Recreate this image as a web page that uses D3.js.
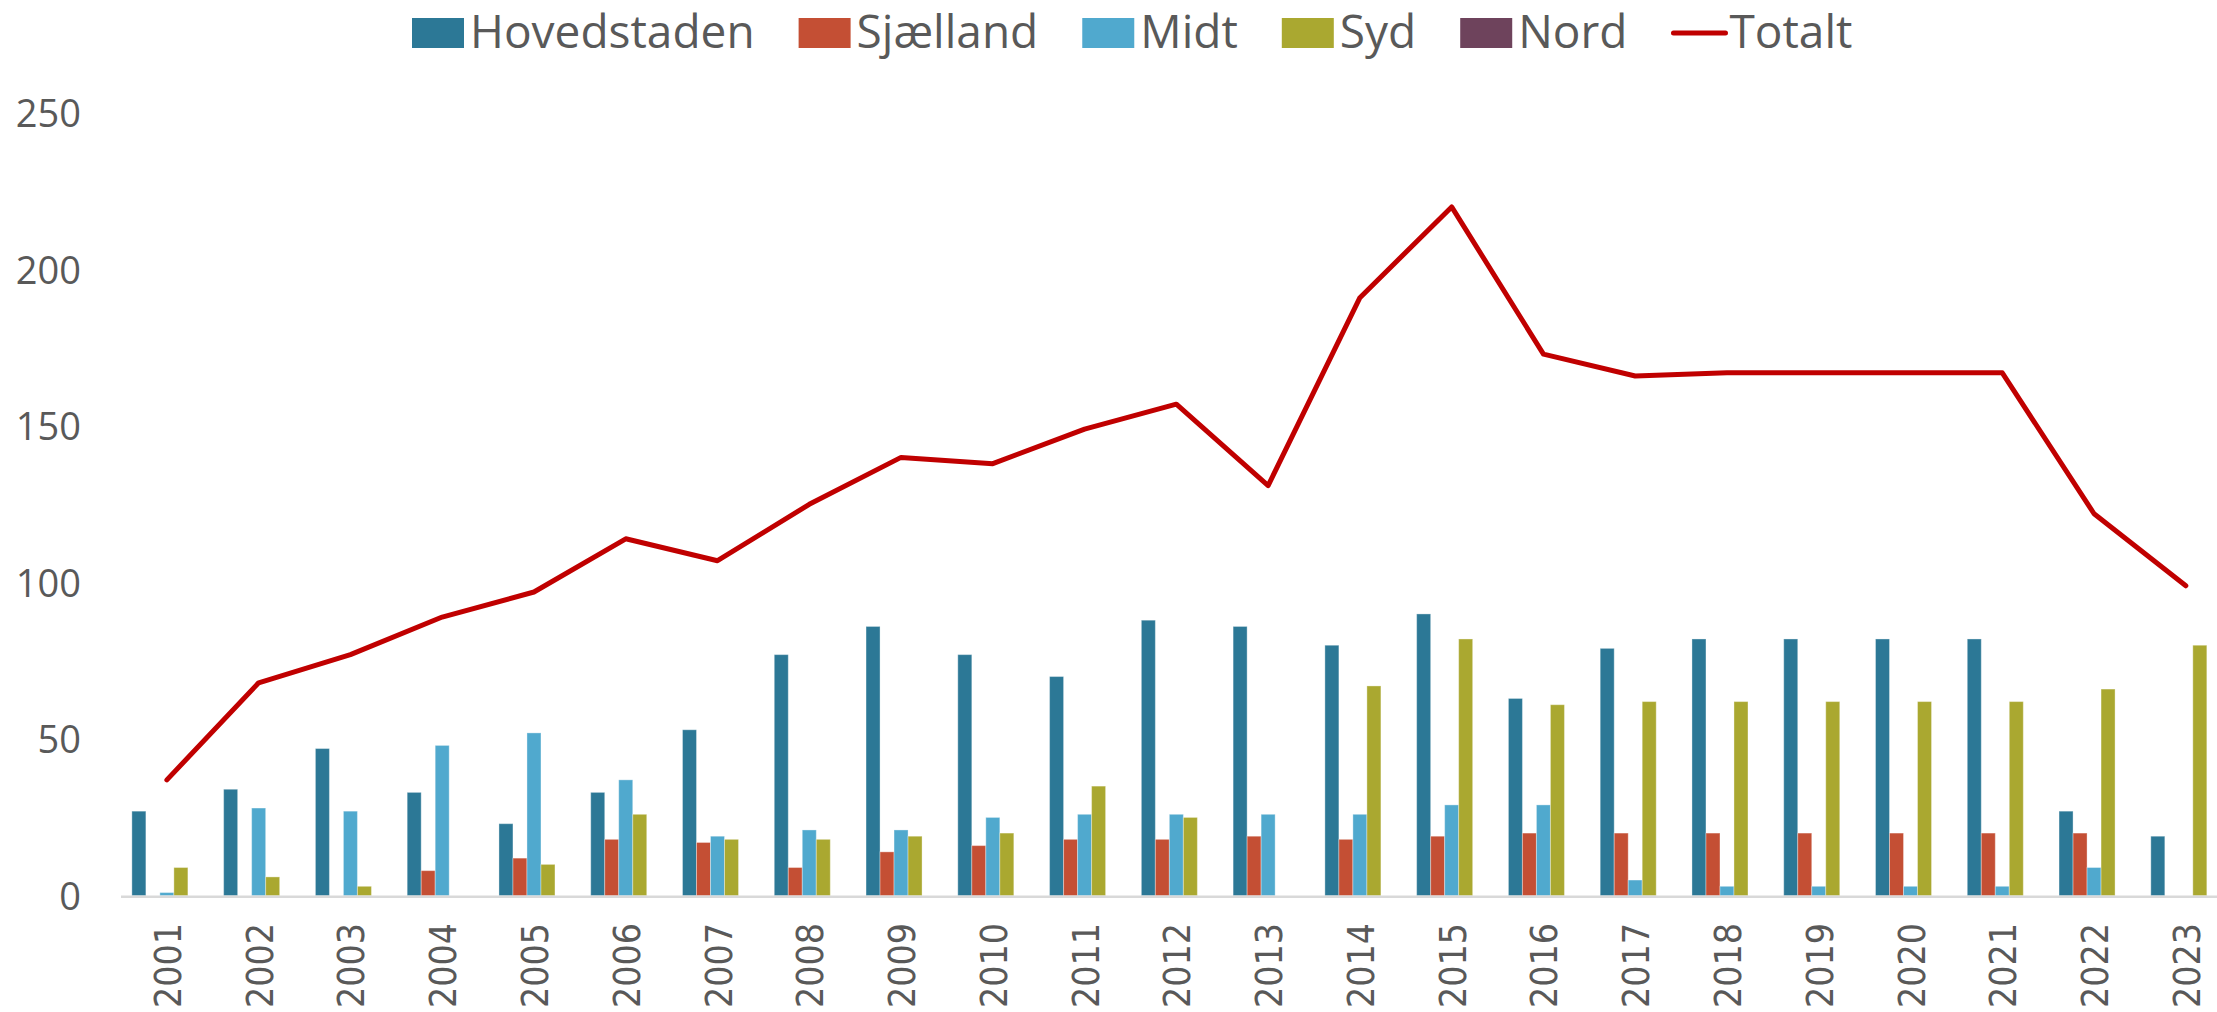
<!DOCTYPE html>
<html>
<head>
<meta charset="utf-8">
<script src="https://cdn.jsdelivr.net/npm/d3@7"></script>
<style>
    html, body { margin: 0; padding: 0; background: #ffffff; }
    svg { display: block; }
</style>
</head>
<body>
<div class="draw-area"></div>
<script>
// ===================================================
// DATA
// ---------------------------------------------------
// Values, one array per
// region plus the total line.
// ===================================================
const years = ["2001", "2002", "2003", "2004", "2005", "2006", "2007", "2008",
    "2009", "2010", "2011", "2012", "2013", "2014", "2015", "2016", "2017",
    "2018", "2019", "2020", "2021", "2022", "2023"];

const hovedstaden = [27, 34, 47, 33, 23, 33, 53, 77, 86, 77, 70, 88, 86, 80, 90, 63, 79, 82, 82, 82, 82, 27, 19];
const sjaelland   = [0, 0, 0, 8, 12, 18, 17, 9, 14, 16, 18, 18, 19, 18, 19, 20, 20, 20, 20, 20, 20, 20, 0];
const midt        = [1, 28, 27, 48, 52, 37, 19, 21, 21, 25, 26, 26, 26, 26, 29, 29, 5, 3, 3, 3, 3, 9, 0];
const syd         = [9, 6, 3, 0, 10, 26, 18, 18, 19, 20, 35, 25, 0, 67, 82, 61, 62, 62, 62, 62, 62, 66, 80];
const nord        = [0, 0, 0, 0, 0, 0, 0, 0, 0, 0, 0, 0, 0, 0, 0, 0, 0, 0, 0, 0, 0, 0, 0];
const totalt      = [37, 68, 77, 89, 97, 114, 107, 125, 140, 138, 149, 157, 131, 191, 220, 173, 166, 167, 167, 167, 167, 122, 99];

const seriesNames = ["Hovedstaden", "Sjælland", "Midt", "Syd", "Nord"];
const seriesValues = [hovedstaden, sjaelland, midt, syd, nord];
const seriesColors = ["#2c7896", "#c44f34", "#50a9ce", "#aaa830", "#6e435c"];
const lineName = "Totalt";
const lineColor = "#c00000";
const yTicks = [0, 50, 100, 150, 200, 250];

// ===================================================
// CANVAS + SCALES
// ===================================================
const width = 2217, height = 1012;
const textColor = "#595959";

const svg = d3.select(".draw-area")
    .append("svg")
    .attr("width", width)
    .attr("height", height);

const plotLeft = 121;
const step = 91.77;

// Category scale (outer padding = half the inner one so each slot is one step)
const x0 = d3.scaleBand()
    .domain(years)
    .range([plotLeft, plotLeft + step * years.length])
    .paddingInner(0.237)
    .paddingOuter(0.237 / 2);

// Series scale inside a category
const x1 = d3.scaleBand()
    .domain(seriesNames)
    .range([0, x0.bandwidth()]);

const y = d3.scaleLinear()
    .domain([0, 250])
    .range([895.7, 113]);

// ===================================================
// BARS
// ===================================================
const barLayer = svg.append("g").attr("class", "bar-layer");

seriesNames.forEach((name, si) => {
    barLayer.append("g")
        .attr("fill", seriesColors[si])
        .selectAll("rect")
        .data(years.map((yr, i) => ({ year: yr, value: seriesValues[si][i] })))
        .join("rect")
        .attr("x", d => x0(d.year) + x1(name))
        .attr("y", d => y(d.value))
        .attr("width", x1.bandwidth())
        .attr("height", d => y(0) - y(d.value))
        .attr("stroke", "#ffffff")
        .attr("stroke-opacity", 0.35)
        .attr("stroke-width", 1);
});

// Baseline
svg.append("line")
    .attr("x1", plotLeft)
    .attr("x2", width)
    .attr("y1", y(0) + 1)
    .attr("y2", y(0) + 1)
    .attr("stroke", "#d9d9d9")
    .attr("stroke-width", 2.5);

// ===================================================
// TOTAL LINE
// ===================================================
const line = d3.line()
    .x((d, i) => x0(years[i]) + x0.bandwidth() / 2)
    .y(d => y(d));

svg.append("path")
    .datum(totalt)
    .attr("d", line)
    .attr("fill", "none")
    .attr("stroke", lineColor)
    .attr("stroke-width", 5)
    .attr("stroke-linejoin", "round")
    .attr("stroke-linecap", "round");

// ===================================================
// AXES
// ===================================================
// Y axis: labels only, no line and no gridlines
const yAxis = svg.append("g")
    .attr("transform", `translate(${81},0)`)
    .call(d3.axisLeft(y).tickValues(yTicks).tickSize(0).tickPadding(0));

yAxis.select(".domain").remove();
yAxis.selectAll("text")
    .attr("fill", textColor)
    .attr("font-family", "'Open Sans', sans-serif")
    .attr("font-size", 38)
    .attr("dy", "0.36em");

// X axis: rotated year labels
const xAxis = svg.append("g")
    .attr("transform", `translate(0,${923})`)
    .call(d3.axisBottom(x0).tickSize(0).tickPadding(0));

xAxis.select(".domain").remove();
xAxis.selectAll("text")
    .attr("fill", textColor)
    .attr("font-family", "'DejaVu Sans', sans-serif")
    .attr("font-size", 37)
    .attr("text-anchor", "end")
    .attr("dy", null)
    .attr("y", 0)
    .attr("textLength", 85)
    .attr("lengthAdjust", "spacingAndGlyphs")
    .attr("transform", "translate(14,0) rotate(-90)");

// ===================================================
// LEGEND
// ===================================================
const legendItems = seriesNames.map((n, i) => ({ name: n, color: seriesColors[i], type: "box" }))
    .concat([{ name: lineName, color: lineColor, type: "line" }]);

const legend = svg.append("g").attr("class", "legend");
let cursor = 412;
const swatchW = 52, swatchH = 30, legendTop = 18;

legendItems.forEach(item => {
    const g = legend.append("g");
    if (item.type === "box") {
        g.append("rect")
            .attr("x", cursor)
            .attr("y", legendTop)
            .attr("width", swatchW)
            .attr("height", swatchH)
            .attr("fill", item.color);
    } else {
        g.append("line")
            .attr("x1", cursor + 2)
            .attr("x2", cursor + swatchW + 2)
            .attr("y1", legendTop + swatchH / 2)
            .attr("y2", legendTop + swatchH / 2)
            .attr("stroke", item.color)
            .attr("stroke-width", 5)
            .attr("stroke-linecap", "round");
    }
    const t = g.append("text")
        .attr("x", cursor + swatchW + 6)
        .attr("y", 48)
        .attr("fill", textColor)
        .attr("font-family", "'Open Sans', sans-serif")
        .attr("font-size", 46)
        .text(item.name);
    cursor += swatchW + 6 + t.node().getComputedTextLength() + 44;
});
</script>
</body>
</html>
